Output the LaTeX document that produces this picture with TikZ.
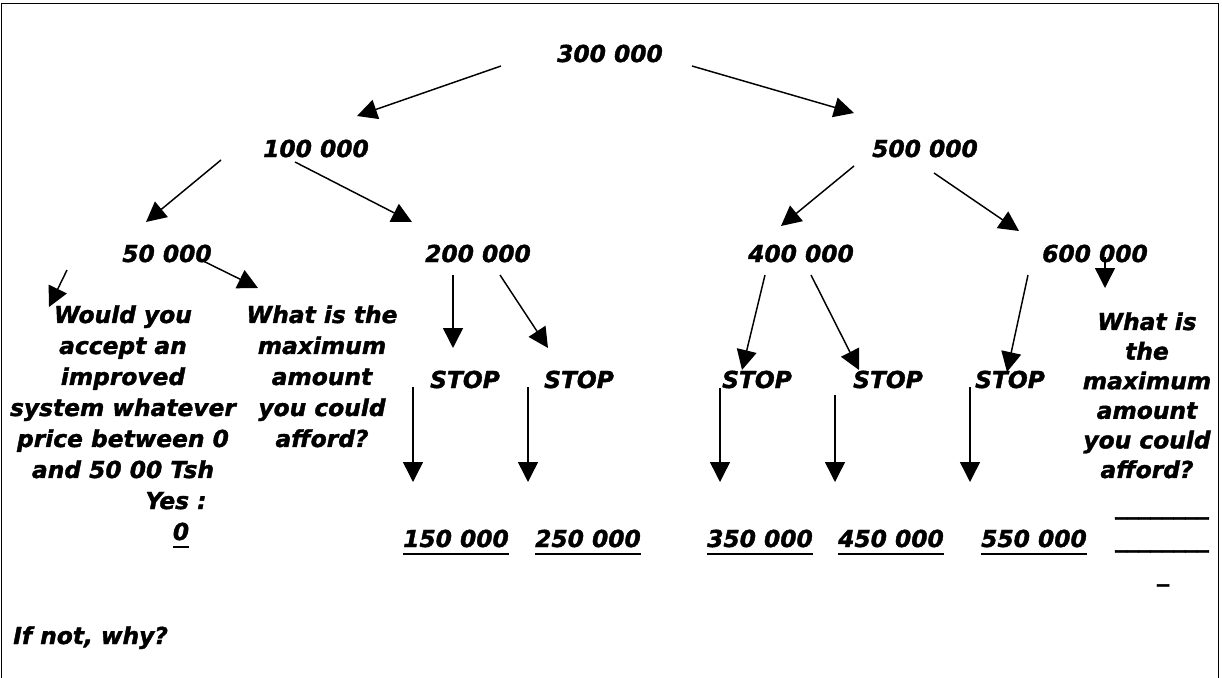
\documentclass[tikz,border=0pt]{standalone}
\usepackage{fontspec}
\setmainfont{DejaVu Sans}[BoldItalicFeatures={FakeBold=1.6}]
\usetikzlibrary{arrows.meta}
\newcommand{\undr}[1]{\setbox0=\hbox{#1}\leavevmode\rlap{\rule[-6pt]{\wd0}{1.5pt}}\box0}

\begin{document}
\begin{tikzpicture}[x=0.75pt,y=-0.75pt,
    lbl/.style={inner sep=0pt,anchor=base,font=\bfseries\itshape\fontsize{17.5}{23.25}\selectfont},
    blk/.style={lbl,anchor=north,align=center},
    arr/.style={-{Triangle[length=15pt,width=15pt]},line width=1.1pt}]
  \useasboundingbox (0,0) rectangle (1222,678);
  \draw[line width=1.1pt] (1.5,678) -- (1.5,3.5) -- (1218.5,3.5) -- (1218.5,678);

  % amounts
  \node[lbl] (t300) at (610,62) {300 000};
  \node[lbl] (t100) at (316,157) {100 000};
  \node[lbl] (t500) at (925,157) {500 000};
  \node[lbl] (t50) at (167,262) {50 000};
  \node[lbl] (t200) at (478,262) {200 000};
  \node[lbl] (t400) at (801,262) {400 000};
  \node[lbl] (t600) at (1095,262) {600 000};

  % questions
  \node[blk] (q50) at (123,305) {Would you\\accept an\\improved\\system whatever\\price between 0\\and 50 00 Tsh};
  \node[lbl] (yes) at (176,509) {Yes :};
  \node[lbl] (zero) at (181,540) {\undr{0}};
  \node[blk] (qmax) at (322,305) {What is the\\maximum\\amount\\you could\\afford?};
  \node[blk,font=\bfseries\itshape\fontsize{17.5}{22.2}\selectfont] (qmax2) at (1147,312) {What is\\the\\maximum\\amount\\you could\\afford?};

  \foreach \i/\x in {1/465,2/579,3/757,4/888,5/1010}
    \node[lbl] (s\i) at (\x,388) {STOP};

  \node[lbl] (v150) at (456,547) {\undr{150 000}};
  \node[lbl] (v250) at (588,547) {\undr{250 000}};
  \node[lbl] (v350) at (760,547) {\undr{350 000}};
  \node[lbl] (v450) at (891,547) {\undr{450 000}};
  \node[lbl] (v550) at (1034,547) {\undr{550 000}};
  \node[lbl] (b1) at (1162,514) {\_\_\_\_\_\_\_\_};
  \node[lbl] (b2) at (1162,547) {\_\_\_\_\_\_\_\_};
  \node[lbl] (b3) at (1163,581) {\_};

  \node[lbl,anchor=base west] (why) at (13,644) {If not, why?};

  % arrows
  \draw[arr] ([shift={(-109,4)}]t300.base) -- ([shift={(41,-41)}]t100.base);
  \draw[arr] ([shift={(82,4)}]t300.base) -- ([shift={(-71,-44)}]t500.base);
  \draw[arr] ([shift={(-95,3)}]t100.base) -- ([shift={(-21,-40)}]t50.base);
  \draw[arr] ([shift={(-21,5)}]t100.base) -- ([shift={(-66,-40)}]t200.base);
  \draw[arr] ([shift={(-71,9)}]t500.base) -- ([shift={(-20,-36)}]t400.base);
  \draw[arr] ([shift={(9,16)}]t500.base) -- ([shift={(-76,-31)}]t600.base);
  \draw[arr] ([shift={(-100,8)}]t50.base) -- ([shift={(-74,2)}]q50.north);
  \draw[arr] ([shift={(30,-4)}]t50.base) -- ([shift={(-64,-17)}]qmax.north);
  \draw[arr] ([shift={(-25,13)}]t200.base) -- ([shift={(-12,-40)}]s1.base);
  \draw[arr] ([shift={(22,13)}]t200.base) -- ([shift={(-31,-40)}]s2.base);
  \draw[arr] ([shift={(-36,13)}]t400.base) -- ([shift={(-15,-18)}]s3.base);
  \draw[arr] ([shift={(10,13)}]t400.base) -- ([shift={(-29,-18)}]s4.base);
  \draw[arr] ([shift={(-67,13)}]t600.base) -- ([shift={(-3,-16)}]s5.base);
  \draw[arr] ([shift={(10,-5)}]t600.base) -- ([shift={(-42,-24)}]qmax2.north);
  \draw[arr] ([shift={(-52,-1)}]s1.base) -- ([shift={(-43,-65)}]v150.base);
  \draw[arr] ([shift={(-51,-1)}]s2.base) -- ([shift={(-60,-65)}]v250.base);
  \draw[arr] ([shift={(-37,0)}]s3.base) -- ([shift={(-40,-65)}]v350.base);
  \draw[arr] ([shift={(-53,7)}]s4.base) -- ([shift={(-56,-65)}]v450.base);
  \draw[arr] ([shift={(-40,-1)}]s5.base) -- ([shift={(-64,-65)}]v550.base);
\end{tikzpicture}
\end{document}
